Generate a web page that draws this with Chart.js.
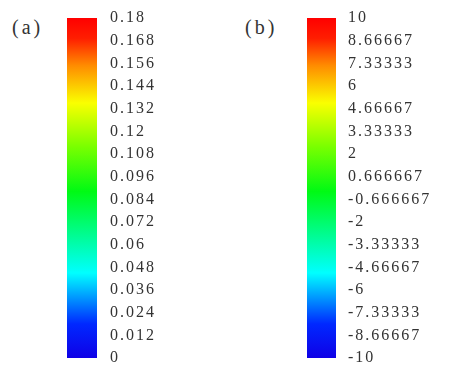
<!DOCTYPE html>
<html>
<head>
<meta charset="utf-8">
<script src="https://cdn.jsdelivr.net/npm/chart.js@4"></script>
<style>
    body { margin: 0; background: #fff; width: 452px; height: 367px; position: relative; overflow: hidden; }
    .panel { position: absolute; top: 0; height: 367px; }
    .tag { position: absolute; top: 16px; font-family: "Liberation Serif", serif; font-size: 20px; letter-spacing: 3px; color: #333; }
</style>
</head>
<body>
<div class="tag" style="left: 12px;">(a)</div>
<div class="tag" style="left: 245px;">(b)</div>
<div class="panel" style="left: 0; width: 230px;"><canvas id="barA"></canvas></div>
<div class="panel" style="left: 240px; width: 212px;"><canvas id="barB"></canvas></div>
<script>
// colour bar (a)
const rangeA = [0, 0.18];
const ticksA = [0, 0.012, 0.024, 0.036, 0.048, 0.06, 0.072, 0.084, 0.096, 0.108, 0.12, 0.132, 0.144, 0.156, 0.168, 0.18];
const labelsA = ["0", "0.012", "0.024", "0.036", "0.048", "0.06", "0.072", "0.084", "0.096", "0.108", "0.12", "0.132", "0.144", "0.156", "0.168", "0.18"];

// colour bar (b)
const rangeB = [-10, 10];
const ticksB = [-10, -8.66667, -7.33333, -6, -4.66667, -3.33333, -2, -0.666667, 0.666667, 2, 3.33333, 4.66667, 6, 7.33333, 8.66667, 10];
const labelsB = ["-10", "-8.66667", "-7.33333", "-6", "-4.66667", "-3.33333", "-2", "-0.666667", "0.666667", "2", "3.33333", "4.66667", "6", "7.33333", "8.66667", "10"];

// jet-like colour stops, bottom (0) to top (1)
const stops = [
    [0.00, "rgb(15,0,230)"],
    [0.10, "rgb(0,40,255)"],
    [0.25, "rgb(0,255,255)"],
    [0.49, "rgb(0,250,20)"],
    [0.62, "rgb(120,255,0)"],
    [0.75, "rgb(250,255,0)"],
    [0.86, "rgb(255,140,0)"],
    [0.94, "rgb(255,30,0)"],
    [1.00, "rgb(255,0,0)"]
];

function barFill(context) {
    const area = context.chart.chartArea;
    if (!area) return "#888";
    const g = context.chart.ctx.createLinearGradient(0, area.bottom, 0, area.top);
    stops.forEach(s => g.addColorStop(s[0], s[1]));
    return g;
}

// the printed labels are spaced out a little
const spacing = {
    id: "spacing",
    beforeDraw: chart => { chart.ctx.letterSpacing = "2px"; }
};

function makeBar(id, range, tickValues, tickLabels, padLeft, axisWidth, tickPad) {
    new Chart(document.getElementById(id), {
        type: "bar",
        data: {
            labels: [""],
            datasets: [{
                data: [range],
                backgroundColor: barFill,
                borderWidth: 0,
                barPercentage: 1,
                categoryPercentage: 1
            }]
        },
        options: {
            responsive: true,
            maintainAspectRatio: false,
            animation: false,
            layout: { padding: { left: padLeft, top: 18, bottom: 9, right: 0 } },
            plugins: { legend: { display: false }, tooltip: { enabled: false } },
            scales: {
                x: { display: false },
                y: {
                    position: "right",
                    min: range[0],
                    max: range[1],
                    grid: { display: false },
                    border: { display: false },
                    afterBuildTicks: scale => {
                        scale.ticks = tickValues.map(v => ({ value: v }));
                    },
                    afterFit: scale => {
                        scale.width = axisWidth;
                        scale.paddingTop = 0;
                        scale.paddingBottom = 0;
                    },
                    ticks: {
                        padding: tickPad,
                        color: "#333",
                        font: { family: "Liberation Serif", size: 16 },
                        callback: (v, i) => tickLabels[i]
                    }
                }
            }
        },
        plugins: [spacing]
    });
}

makeBar("barA", rangeA, ticksA, labelsA, 67, 133, 5);
makeBar("barB", rangeB, ticksB, labelsB, 67, 116, 4);
</script>
</body>
</html>
